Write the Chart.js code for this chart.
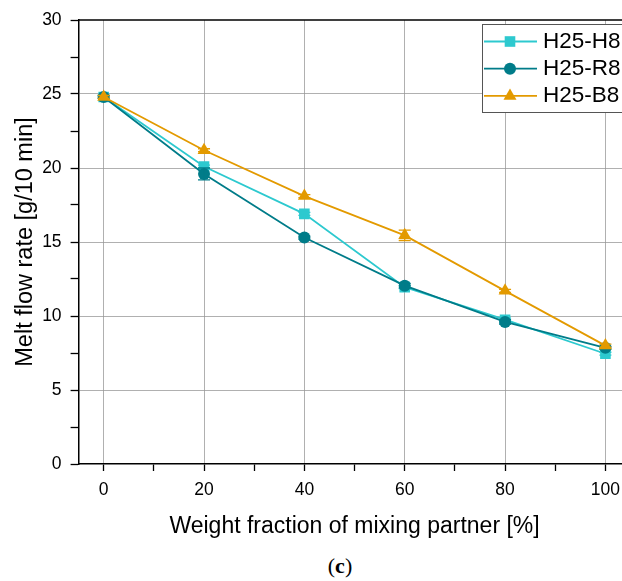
<!DOCTYPE html>
<html><head><meta charset="utf-8">
<script src="https://cdn.jsdelivr.net/npm/chart.js@4.4.1/dist/chart.umd.min.js"></script>
<style>
html,body{margin:0;padding:0;background:#fff;overflow:hidden;width:622px;height:581px;}
#wrap{position:relative;width:640px;height:581px;}
#c{position:absolute;left:0;top:0;}
#lab{position:absolute;left:0;width:680px;top:553px;text-align:center;font-family:"Liberation Serif",serif;font-size:22px;color:#000;}
</style></head>
<body>
<div id="wrap">
<canvas id="c" width="640" height="545"></canvas>
<div id="lab">(<b>c</b>)</div>
</div>
<script>
const fractions = [0, 20, 40, 60, 80, 100];
const seriesNames = ['H25-H8', 'H25-R8', 'H25-B8'];
const h8 = [24.8, 20.1, 16.9, 11.95, 9.75, 7.45];
const r8 = [24.8, 19.6, 15.3, 12.05, 9.6, 7.85];
const b8 = [24.8, 21.2, 18.1, 15.45, 11.7, 8.0];
const h8Err = [0.1, 0.1, 0.1, 0.1, 0.1, 0.1];
const r8Err = [0.1, 0.4, 0.1, 0.15, 0.15, 0.1];
const b8Err = [0.1, 0.1, 0.1, 0.35, 0.1, 0.1];
const xTicks = [0, 10, 20, 30, 40, 50, 60, 70, 80, 90, 100];
const yTicks = [0, 2.5, 5, 7.5, 10, 12.5, 15, 17.5, 20, 22.5, 25, 27.5, 30];

const colors = ['#2dc9cf', '#007c89', '#e39a00'];
const shapes = ['rect', 'circle', 'triangle'];
const radii = [7.5, 6, 7.5];
const vals = [h8, r8, b8];
const errs = [h8Err, r8Err, b8Err];

const datasets = seriesNames.map((n, i) => ({
  label: n,
  data: fractions.map((x, j) => ({x: x, y: vals[i][j]})),
  err: errs[i],
  borderColor: colors[i],
  backgroundColor: colors[i],
  borderWidth: 1.8,
  pointStyle: shapes[i],
  pointRadius: radii[i],
  pointBorderWidth: 0,
  pointBackgroundColor: colors[i],
  order: 3 - i,
  tension: 0
}));

const errorBars = {
  id: 'errorBars',
  afterDatasetDraw(chart, args) {
    const ds = chart.data.datasets[args.index];
    const meta = args.meta;
    const ctx = chart.ctx;
    const ys = chart.scales.y;
    ctx.save();
    ctx.strokeStyle = ds.borderColor;
    ctx.lineWidth = 1.3;
    meta.data.forEach((pt, j) => {
      const v = ds.data[j].y, e = ds.err[j];
      const y1 = ys.getPixelForValue(v - e), y2 = ys.getPixelForValue(v + e);
      ctx.beginPath();
      ctx.moveTo(pt.x, y1); ctx.lineTo(pt.x, y2);
      ctx.moveTo(pt.x - 6, y1); ctx.lineTo(pt.x + 6, y1);
      ctx.moveTo(pt.x - 6, y2); ctx.lineTo(pt.x + 6, y2);
      ctx.stroke();
    });
    ctx.restore();
  }
};

const frameAndLegend = {
  id: 'frameAndLegend',
  afterDraw(chart) {
    const ctx = chart.ctx;
    const a = chart.chartArea;
    ctx.save();
    ctx.strokeStyle = '#000';
    ctx.lineWidth = 1.5;
    ctx.beginPath();
    ctx.moveTo(a.left, a.top); ctx.lineTo(a.right, a.top); ctx.lineTo(a.right, a.bottom);
    ctx.stroke();
    // legend
    const lx = 482, ly = 24;
    ctx.fillStyle = '#fff';
    ctx.fillRect(lx, ly, 200, 88);
    ctx.strokeStyle = '#555';
    ctx.lineWidth = 1;
    ctx.strokeRect(lx + 0.5, ly + 0.5, 200, 88);
    chart.data.datasets.forEach((ds, i) => {
      const y = 41.5 + i * 27.2;
      ctx.strokeStyle = ds.borderColor;
      ctx.lineWidth = 1.8;
      ctx.beginPath(); ctx.moveTo(484, y); ctx.lineTo(537, y); ctx.stroke();
      ctx.fillStyle = ds.borderColor;
      Chart.helpers.drawPoint(ctx, {pointStyle: ds.pointStyle, radius: ds.pointRadius, borderWidth: 0, rotation: 0}, 510, y);
      ctx.fillStyle = '#000';
      ctx.font = '22.5px "Liberation Sans", Arial, sans-serif';
      ctx.textBaseline = 'middle';
      ctx.textAlign = 'left';
      ctx.fillText(ds.label, 543, y);
    });
    ctx.restore();
  }
};

const gridColor = 'rgba(150,150,150,0.75)';
new Chart(document.getElementById('c'), {
  type: 'line',
  data: {datasets: datasets},
  options: {
    responsive: false,
    animation: false,
    devicePixelRatio: 1,
    layout: {padding: {top: 20, right: 9.5, left: 0, bottom: 0}},
    plugins: {legend: {display: false}, tooltip: {enabled: false}},
    scales: {
      x: {
        type: 'linear', min: -5, max: 105,
        afterBuildTicks: s => { s.ticks = xTicks.map(v => ({value: v})); },
        afterFit: s => { s.height = 81; },
        ticks: {
          autoSkip: false, maxRotation: 0, padding: 9, color: '#000',
          font: {family: '"Liberation Sans", Arial, sans-serif', size: 17.5},
          callback: v => (v % 20 === 0 ? String(v) : '')
        },
        grid: {
          color: c => (c.tick && c.tick.value % 20 === 0 ? gridColor : 'rgba(0,0,0,0)'),
          tickColor: '#000', tickLength: 7, lineWidth: 1, tickWidth: 1.3
        },
        border: {color: '#000', width: 1.5},
        title: {
          display: true, text: 'Weight fraction of mixing partner [%]', color: '#000',
          font: {family: '"Liberation Sans", Arial, sans-serif', size: 23},
          padding: {top: 0, bottom: 5}
        }
      },
      y: {
        type: 'linear', min: 0, max: 30,
        afterBuildTicks: s => { s.ticks = yTicks.map(v => ({value: v})); },
        afterFit: s => { s.width = 78.6; },
        ticks: {
          autoSkip: false, padding: 9, color: '#000',
          font: {family: '"Liberation Sans", Arial, sans-serif', size: 17.5},
          callback: v => (v % 5 === 0 ? String(v) : '')
        },
        grid: {
          color: c => (c.tick && c.tick.value % 5 === 0 && c.tick.value > 0 && c.tick.value < 30 ? gridColor : 'rgba(0,0,0,0)'),
          tickColor: '#000', tickLength: 8, lineWidth: 1, tickWidth: 1.3
        },
        border: {color: '#000', width: 1.5},
        title: {
          display: true, text: 'Melt flow rate [g/10 min]', color: '#000',
          font: {family: '"Liberation Sans", Arial, sans-serif', size: 23.5},
          padding: {top: 11, bottom: 0}
        }
      }
    }
  },
  plugins: [errorBars, frameAndLegend]
});
</script>
</body></html>
